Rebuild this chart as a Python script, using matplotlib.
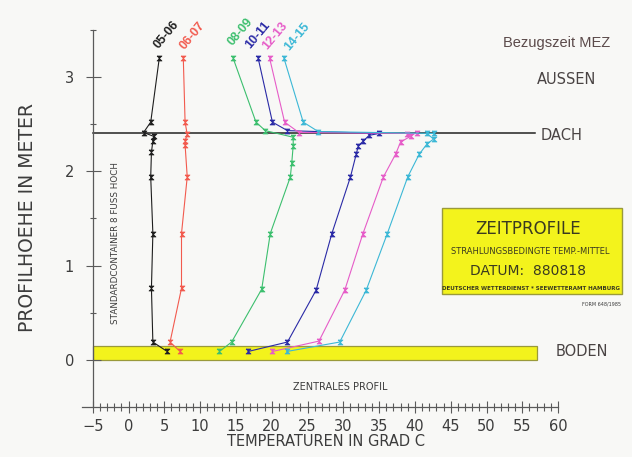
"""Zeitprofile: radiation-driven temperature profiles in a standard container, 880818."""

import matplotlib

matplotlib.use("Agg")
import matplotlib.pyplot as plt
from matplotlib.patches import Rectangle

W, H = 632, 457
BG = "#f8f8f6"
AXIS = "#5a5a5a"
TEXT = "#3c3c3c"

# time windows (MEZ) and plot colours
series_names = ["05-06", "06-07", "08-09", "10-11", "12-13", "14-15"]
series_colors = ["#1e1e1e", "#f25a4e", "#3cbf6e", "#2a2aa6", "#e65cc8", "#3cb8d6"]

# temperatures (grad C) and heights (m)
temp_0506 = [4.3, 3.1, 2.1, 3.5, 3.4, 3.2, 3.1, 3.4, 3.2, 3.4, 5.4]
height_0506 = [3.20, 2.52, 2.41, 2.37, 2.32, 2.20, 1.94, 1.34, 0.76, 0.19, 0.09]

temp_0607 = [7.65, 7.9, 8.2, 7.9, 7.9, 8.2, 7.4, 7.4, 5.8, 7.2]
height_0607 = [3.20, 2.52, 2.39, 2.32, 2.28, 1.94, 1.34, 0.76, 0.19, 0.09]

temp_0809 = [14.6, 17.8, 19.1, 23.0, 23.0, 22.8, 22.6, 19.8, 18.6, 14.4, 12.7]
height_0809 = [3.20, 2.52, 2.43, 2.36, 2.27, 2.09, 1.94, 1.34, 0.75, 0.19, 0.09]

temp_1011 = [18.1, 20.1, 22.2, 35.0, 33.6, 32.8, 32.1, 31.8, 31.0, 28.4, 26.2, 22.2, 16.7]
height_1011 = [3.20, 2.52, 2.43, 2.40, 2.38, 2.32, 2.27, 2.18, 1.94, 1.34, 0.74, 0.19, 0.09]

temp_1213 = [19.7, 21.8, 23.8, 40.3, 38.9, 39.4, 38.0, 37.3, 35.6, 32.7, 30.2, 26.6, 20.1]
height_1213 = [3.20, 2.52, 2.41, 2.40, 2.39, 2.37, 2.31, 2.18, 1.94, 1.33, 0.74, 0.20, 0.09]

temp_1415 = [21.7, 24.4, 26.5, 42.7, 41.7, 42.6, 41.7, 40.6, 39.0, 36.1, 33.2, 29.5, 22.1]
height_1415 = [3.20, 2.52, 2.42, 2.40, 2.40, 2.34, 2.29, 2.18, 1.94, 1.33, 0.74, 0.19, 0.09]

temps = [temp_0506, temp_0607, temp_0809, temp_1011, temp_1213, temp_1415]
heights = [height_0506, height_0607, height_0809, height_1011, height_1213, height_1415]

# label anchor (pixels) for each curve name
label_px = [(167, 35), (192, 36), (240, 32), (258, 35), (275, 36), (297, 37)]

roof_height = 2.40
floor_height = 0.15
x_ticks = list(range(-5, 61, 5))
y_ticks = [0, 1, 2, 3]

# hourglass-like marker as in the plotter output
hourglass = [(-1, 1), (1, 1), (-1, -1), (1, -1), (-1, 1)]


def fig_xy(x, y):
    return x / W, 1 - y / H


def main():
    fig = plt.figure(figsize=(W / 100, H / 100), dpi=100, facecolor=BG)
    ax = fig.add_axes([0, 0, 1, 1])
    ax.set_facecolor(BG)
    ax.set_xlim(-17.95, 70.32)
    ax.set_ylim(-1.028, 3.814)

    for side in ("top", "right"):
        ax.spines[side].set_visible(False)
    ax.spines["left"].set_position(("data", -5))
    ax.spines["left"].set_bounds(-0.5, 3.5)
    ax.spines["bottom"].set_position(("data", -0.5))
    ax.spines["bottom"].set_bounds(-6.55, 60)
    for side in ("left", "bottom"):
        ax.spines[side].set_color(AXIS)
        ax.spines[side].set_linewidth(0.9)

    ax.set_xticks(x_ticks)
    ax.set_xticks(range(-5, 61), minor=True)
    ax.set_yticks(y_ticks)
    ax.set_yticks([0.5, 1.5, 2.5, 3.5], minor=True)
    ax.tick_params(axis="x", which="major", direction="inout", length=8.6, width=0.8,
                   color=AXIS, pad=4, labelsize=10.5, labelcolor=TEXT)
    ax.tick_params(axis="x", which="minor", direction="inout", length=5.8, width=0.8, color=AXIS)
    ax.tick_params(axis="y", which="major", direction="inout", length=10.8, width=0.8,
                   color=AXIS, pad=8, labelsize=10.5, labelcolor=TEXT)
    ax.tick_params(axis="y", which="minor", direction="inout", length=4, width=0.8, color=AXIS)

    # floor band and roof line
    ax.add_patch(Rectangle((-5, 0), 62.05, floor_height, facecolor="#f3f31c",
                           edgecolor="#9a9a3a", linewidth=0.9, zorder=1))
    ax.plot([-5, 56.8], [roof_height, roof_height], color="#222222", lw=1.1, zorder=2)

    for t, h, c in zip(temps, heights, series_colors):
        ax.plot(t, h, color=c, lw=0.8, marker=hourglass, ms=3.6, mec=c, mfc=c,
                mew=0.5, zorder=3)

    for name, c, (px, py) in zip(series_names, series_colors, label_px):
        fig.text(*fig_xy(px, py), name, color=c, fontsize=9, fontweight="bold",
                 family="Liberation Sans", rotation=50, ha="center", va="center")

    fig.text(*fig_xy(28, 218), "PROFILHOEHE IN METER", rotation=90, fontsize=13.5,
             color=TEXT, ha="center", va="center")
    fig.text(*fig_xy(326, 442), "TEMPERATUREN IN GRAD C", fontsize=10.5,
             color=TEXT, ha="center", va="center")
    fig.text(*fig_xy(340, 387), "ZENTRALES PROFIL", fontsize=7, color=TEXT,
             ha="center", va="center")
    fig.text(*fig_xy(115, 243), "STANDARDCONTAINER 8 FUSS HOCH", rotation=90,
             fontsize=6.3, color=TEXT, ha="center", va="center")

    fig.text(*fig_xy(557, 43), "Bezugszeit MEZ", fontsize=10.5, family="Liberation Sans",
             color="#5b4a4a", ha="center", va="center")
    for label, (px, py) in [("AUSSEN", (567, 79)), ("DACH", (562, 135)), ("BODEN", (582, 352))]:
        fig.text(*fig_xy(px, py), label, fontsize=10.5, color="#4a4444",
                 ha="center", va="center")

    # title box
    fig.patches.append(Rectangle(fig_xy(441.7, 294), 180 / W, 85.7 / H,
                                 transform=fig.transFigure, facecolor="#f3f31c",
                                 edgecolor="#9a9a3a", linewidth=1.0))
    fig.text(*fig_xy(528, 229.5), "ZEITPROFILE", fontsize=12, color="#3a3a20",
             ha="center", va="center")
    fig.text(*fig_xy(530.5, 251.7), "STRAHLUNGSBEDINGTE TEMP.-MITTEL", fontsize=6,
             color="#3a3a20", ha="center", va="center")
    fig.text(*fig_xy(528.3, 271), "DATUM:  880818", fontsize=10, color="#3a3a20",
             ha="center", va="center")
    fig.text(*fig_xy(531, 289), "DEUTSCHER WETTERDIENST * SEEWETTERAMT HAMBURG",
             fontsize=4, fontweight="bold", color="#3a3a20", ha="center", va="center")
    fig.text(*fig_xy(602, 304), "FORM 648/1985", fontsize=3.5, color=TEXT,
             ha="center", va="center")

    fig.savefig("out.png", dpi=100, facecolor=BG)


if __name__ == "__main__":
    main()
